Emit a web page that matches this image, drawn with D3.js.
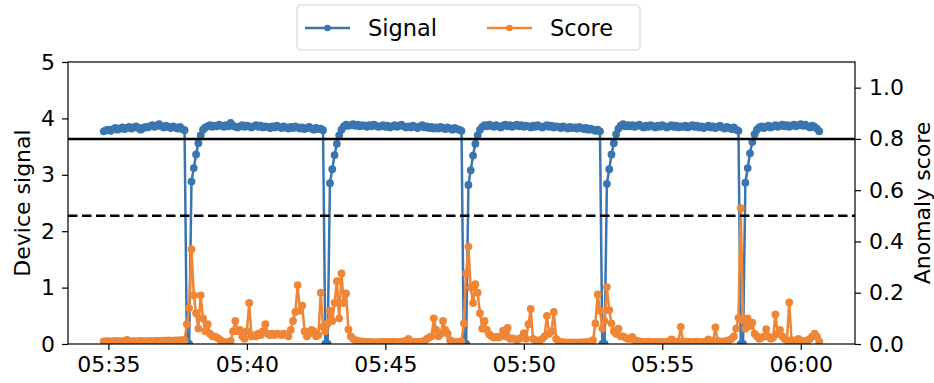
<!DOCTYPE html>
<html>
<head>
<meta charset="utf-8">
<script src="https://cdn.jsdelivr.net/npm/d3@7"></script>
<style>
  body { margin: 0; background: #fff; }
  svg { font-family: "DejaVu Sans", sans-serif; }
</style>
</head>
<body>
<div id="chart"></div>
<script>
// one sample every 5 seconds, starting 05:34:50 (12 samples per row = 1 minute)
const startTime = "05:34:50";
const stepSeconds = 5;

const signal = [
  3.77, 3.79, 3.80, 3.78, 3.81, 3.83, 3.80, 3.82, 3.84, 3.81, 3.83, 3.85,
  3.82, 3.84, 3.86, 3.83, 3.80, 3.83, 3.85, 3.84, 3.86, 3.88, 3.85, 3.87,
  3.90, 3.86, 3.84, 3.87, 3.85, 3.83, 3.86, 3.84, 3.82, 3.85, 3.81, 3.79,
  0.00, 0.00, 2.88, 3.12, 3.36, 3.56, 3.70, 3.80, 3.84, 3.86, 3.88, 3.85,
  3.87, 3.86, 3.89, 3.87, 3.85, 3.88, 3.86, 3.92, 3.87, 3.85, 3.84, 3.86,
  3.88, 3.85, 3.87, 3.86, 3.84, 3.86, 3.88, 3.85, 3.87, 3.84, 3.86, 3.85,
  3.83, 3.86, 3.84, 3.87, 3.85, 3.83, 3.86, 3.84, 3.82, 3.85, 3.83, 3.86,
  3.84, 3.82, 3.84, 3.81, 3.83, 3.85, 3.82, 3.80, 3.83, 3.81, 3.82, 3.79,
  0.00, 0.00, 2.85, 3.10, 3.35, 3.55, 3.70, 3.80, 3.86, 3.89, 3.87, 3.88,
  3.90, 3.87, 3.89, 3.86, 3.88, 3.87, 3.85, 3.88, 3.86, 3.89, 3.87, 3.85,
  3.86, 3.88, 3.85, 3.87, 3.84, 3.86, 3.88, 3.85, 3.87, 3.89, 3.86, 3.84,
  3.86, 3.84, 3.87, 3.85, 3.83, 3.86, 3.88, 3.84, 3.86, 3.83, 3.85, 3.82,
  3.84, 3.82, 3.85, 3.83, 3.81, 3.84, 3.82, 3.80, 3.83, 3.81, 3.80, 3.78,
  0.00, 0.00, 2.82, 3.08, 3.34, 3.55, 3.70, 3.80, 3.85, 3.88, 3.86, 3.89,
  3.87, 3.85, 3.88, 3.86, 3.84, 3.87, 3.89, 3.86, 3.88, 3.85, 3.87, 3.89,
  3.86, 3.88, 3.85, 3.87, 3.86, 3.84, 3.87, 3.85, 3.88, 3.86, 3.84, 3.86,
  3.88, 3.85, 3.87, 3.84, 3.86, 3.85, 3.83, 3.86, 3.84, 3.82, 3.85, 3.83,
  3.84, 3.82, 3.85, 3.83, 3.81, 3.83, 3.80, 3.82, 3.80, 3.78, 3.80, 3.77,
  0.00, 0.00, 2.84, 3.10, 3.36, 3.56, 3.72, 3.82, 3.87, 3.90, 3.86, 3.88,
  3.86, 3.88, 3.85, 3.87, 3.89, 3.86, 3.84, 3.87, 3.85, 3.88, 3.86, 3.84,
  3.87, 3.85, 3.88, 3.86, 3.84, 3.86, 3.88, 3.85, 3.87, 3.84, 3.86, 3.85,
  3.87, 3.84, 3.86, 3.88, 3.85, 3.87, 3.84, 3.86, 3.83, 3.85, 3.87, 3.84,
  3.86, 3.83, 3.85, 3.87, 3.84, 3.82, 3.85, 3.83, 3.81, 3.84, 3.80, 3.78,
  0.00, 0.00, 2.86, 3.12, 3.38, 3.58, 3.72, 3.80, 3.84, 3.86, 3.83, 3.85,
  3.87, 3.84, 3.86, 3.88, 3.85, 3.87, 3.89, 3.86, 3.88, 3.85, 3.87, 3.89,
  3.86, 3.88, 3.90, 3.87, 3.89, 3.86, 3.84, 3.87, 3.85, 3.82, 3.77
];

const score = [
  0.010, 0.010, 0.011, 0.010, 0.010, 0.012, 0.010, 0.011, 0.010, 0.012, 0.016, 0.011,
  0.010, 0.011, 0.010, 0.010, 0.012, 0.011, 0.010, 0.011, 0.012, 0.010, 0.011, 0.012,
  0.011, 0.012, 0.013, 0.012, 0.014, 0.013, 0.012, 0.014, 0.013, 0.015, 0.014, 0.016,
  0.077, 0.140, 0.370, 0.190, 0.120, 0.060, 0.190, 0.100, 0.050, 0.077, 0.040, 0.030,
  0.030, 0.025, 0.020, 0.012, 0.008, 0.006, 0.007, 0.012, 0.050, 0.090, 0.050, 0.055,
  0.030, 0.020, 0.050, 0.160, 0.030, 0.035, 0.030, 0.040, 0.035, 0.050, 0.077, 0.040,
  0.035, 0.040, 0.035, 0.040, 0.038, 0.035, 0.040, 0.036, 0.030, 0.055, 0.090, 0.125,
  0.230, 0.130, 0.150, 0.050, 0.030, 0.040, 0.055, 0.050, 0.030, 0.035, 0.200, 0.067,
  0.050, 0.080, 0.130, 0.090, 0.160, 0.245, 0.100, 0.275, 0.160, 0.197, 0.057, 0.030,
  0.020, 0.015, 0.012, 0.010, 0.010, 0.008, 0.007, 0.008, 0.007, 0.006, 0.007, 0.006,
  0.008, 0.007, 0.008, 0.007, 0.008, 0.009, 0.008, 0.007, 0.008, 0.008, 0.010, 0.012,
  0.020, 0.010, 0.008, 0.008, 0.009, 0.008, 0.010, 0.012, 0.020, 0.026, 0.030, 0.100,
  0.055, 0.030, 0.040, 0.090, 0.055, 0.040, 0.015, 0.010, 0.008, 0.008, 0.009, 0.010,
  0.080, 0.275, 0.380, 0.220, 0.160, 0.233, 0.200, 0.120, 0.060, 0.090, 0.055, 0.038,
  0.030, 0.025, 0.028, 0.025, 0.030, 0.052, 0.030, 0.063, 0.020, 0.022, 0.020, 0.015,
  0.020, 0.025, 0.042, 0.020, 0.077, 0.137, 0.020, 0.015, 0.012, 0.015, 0.020, 0.030,
  0.110, 0.040, 0.050, 0.125, 0.020, 0.010, 0.008, 0.006, 0.006, 0.005, 0.006, 0.005,
  0.006, 0.005, 0.006, 0.005, 0.007, 0.006, 0.008, 0.010, 0.015, 0.080, 0.193, 0.130,
  0.060, 0.090, 0.222, 0.132, 0.080, 0.050, 0.040, 0.060, 0.030, 0.030, 0.025, 0.020,
  0.020, 0.028, 0.015, 0.012, 0.010, 0.009, 0.008, 0.008, 0.009, 0.008, 0.007, 0.008,
  0.007, 0.008, 0.007, 0.008, 0.009, 0.010, 0.018, 0.010, 0.008, 0.009, 0.067, 0.010,
  0.008, 0.009, 0.008, 0.007, 0.008, 0.009, 0.008, 0.007, 0.008, 0.010, 0.018, 0.012,
  0.010, 0.065, 0.012, 0.010, 0.009, 0.010, 0.012, 0.015, 0.020, 0.030, 0.060, 0.102,
  0.530, 0.093, 0.060, 0.100, 0.070, 0.083, 0.040, 0.030, 0.020, 0.025, 0.030, 0.058,
  0.030, 0.020, 0.025, 0.115, 0.040, 0.055, 0.030, 0.020, 0.015, 0.162, 0.015, 0.012,
  0.015, 0.020, 0.012, 0.010, 0.012, 0.015, 0.020, 0.030, 0.040, 0.030, 0.010
];

const timeTicks = ["05:35", "05:40", "05:45", "05:50", "05:55", "06:00"];
const signalTicks = [0, 1, 2, 3, 4, 5];
const scoreTicks = [0.0, 0.2, 0.4, 0.6, 0.8, 1.0];
const thresholdHigh = 0.8;
const thresholdLow = 0.5;

const width = 934, height = 383;
const plot = { left: 68, right: 855, top: 62, bottom: 344 };
const blue = "#3a75b0", orange = "#ef8636";
const fontSize = "22px";
const dotR = 3.9, lineW = 2.5;

const parseTime = d3.timeParse("%H:%M:%S");
const parseTick = d3.timeParse("%H:%M");
const t0 = parseTime(startTime);
const times = signal.map((_, i) => d3.timeSecond.offset(t0, i * stepSeconds));

// matplotlib-style 5% margins on the time axis
const tMin = times[0], tMax = times[times.length - 1];
const pad = (tMax - tMin) * 0.05;

const x = d3.scaleTime()
  .domain([new Date(+tMin - pad), new Date(+tMax + pad)])
  .range([plot.left, plot.right]);

const yLeft = d3.scaleLinear().domain([0, 5]).range([plot.bottom, plot.top]);
const yRight = d3.scaleLinear().domain([0, 1.1]).range([plot.bottom, plot.top]);

const svg = d3.select("#chart").append("svg")
  .attr("width", width)
  .attr("height", height);

svg.append("rect").attr("width", width).attr("height", height).attr("fill", "#fff");

svg.append("defs").append("clipPath").attr("id", "clip")
  .append("rect")
  .attr("x", plot.left).attr("y", plot.top)
  .attr("width", plot.right - plot.left).attr("height", plot.bottom - plot.top);

const plotArea = svg.append("g").attr("clip-path", "url(#clip)");

// Signal (left axis)
const signalLine = d3.line()
  .x((d, i) => x(times[i]))
  .y(d => yLeft(d));

plotArea.append("path")
  .datum(signal)
  .attr("fill", "none")
  .attr("stroke", blue)
  .attr("stroke-width", lineW)
  .attr("stroke-linejoin", "round")
  .attr("d", signalLine);

plotArea.append("g")
  .selectAll("circle")
  .data(signal)
  .enter()
  .append("circle")
  .attr("cx", (d, i) => x(times[i]))
  .attr("cy", d => yLeft(d))
  .attr("r", dotR)
  .attr("fill", blue);

// Score (right axis)
const scoreLine = d3.line()
  .x((d, i) => x(times[i]))
  .y(d => yRight(d));

plotArea.append("path")
  .datum(score)
  .attr("fill", "none")
  .attr("stroke", orange)
  .attr("stroke-width", lineW)
  .attr("stroke-linejoin", "round")
  .attr("d", scoreLine);

plotArea.append("g")
  .selectAll("circle")
  .data(score)
  .enter()
  .append("circle")
  .attr("cx", (d, i) => x(times[i]))
  .attr("cy", d => yRight(d))
  .attr("r", dotR)
  .attr("fill", orange);

// thresholds
plotArea.append("line")
  .attr("x1", plot.left).attr("x2", plot.right)
  .attr("y1", yRight(thresholdHigh)).attr("y2", yRight(thresholdHigh))
  .attr("stroke", "#000").attr("stroke-width", 2.5);

plotArea.append("line")
  .attr("x1", plot.left).attr("x2", plot.right)
  .attr("y1", yRight(thresholdLow)).attr("y2", yRight(thresholdLow))
  .attr("stroke", "#000").attr("stroke-width", 2.5)
  .attr("stroke-dasharray", "9.5,4.5");

// axes
const xAxis = svg.append("g")
  .attr("transform", "translate(0," + plot.bottom + ")")
  .call(d3.axisBottom(x)
    .tickValues(timeTicks.map(parseTick))
    .tickFormat(d3.timeFormat("%H:%M"))
    .tickSize(6).tickPadding(6));

const leftAxis = svg.append("g")
  .attr("transform", "translate(" + plot.left + ",0)")
  .call(d3.axisLeft(yLeft).tickValues(signalTicks).tickFormat(d3.format("d"))
    .tickSize(6).tickPadding(7));

const rightAxis = svg.append("g")
  .attr("transform", "translate(" + plot.right + ",0)")
  .call(d3.axisRight(yRight).tickValues(scoreTicks).tickFormat(d3.format(".1f"))
    .tickSize(6).tickPadding(8));

[xAxis, leftAxis, rightAxis].forEach(g => {
  g.select(".domain").remove();
  g.selectAll(".tick line").attr("stroke", "#000").attr("stroke-width", 1.2);
  g.selectAll(".tick text")
    .attr("fill", "#000")
    .style("font-size", fontSize)
    .style("font-family", "'DejaVu Sans', sans-serif");
});

// spines
svg.append("rect")
  .attr("x", plot.left).attr("y", plot.top)
  .attr("width", plot.right - plot.left).attr("height", plot.bottom - plot.top)
  .attr("fill", "none")
  .attr("stroke", "#000")
  .attr("stroke-width", 1.2);

// axis titles
const midY = (plot.top + plot.bottom) / 2;
svg.append("text")
  .attr("transform", "translate(22," + midY + ") rotate(-90)")
  .attr("text-anchor", "middle")
  .attr("dominant-baseline", "central")
  .style("font-size", fontSize)
  .text("Device signal");

svg.append("text")
  .attr("transform", "translate(922," + midY + ") rotate(-90)")
  .attr("text-anchor", "middle")
  .attr("dominant-baseline", "central")
  .style("font-size", fontSize)
  .text("Anomaly score");

// legend
const legend = svg.append("g");
legend.append("rect")
  .attr("x", 297).attr("y", 5)
  .attr("width", 343).attr("height", 45)
  .attr("rx", 4)
  .attr("fill", "#fff")
  .attr("stroke", "#d4d4d4")
  .attr("stroke-width", 1.2);

const legendItems = [
  { label: "Signal", color: blue, x: 305 },
  { label: "Score", color: orange, x: 487 }
];

legendItems.forEach(item => {
  const g = legend.append("g").attr("transform", "translate(" + item.x + ",28)");
  g.append("line")
    .attr("x1", 0).attr("x2", 45)
    .attr("stroke", item.color).attr("stroke-width", lineW);
  g.append("circle")
    .attr("cx", 22.5).attr("r", 3.3)
    .attr("fill", item.color);
  g.append("text")
    .attr("x", 63)
    .attr("dominant-baseline", "central")
    .style("font-size", "22.5px")
    .text(item.label);
});
</script>
</body>
</html>
